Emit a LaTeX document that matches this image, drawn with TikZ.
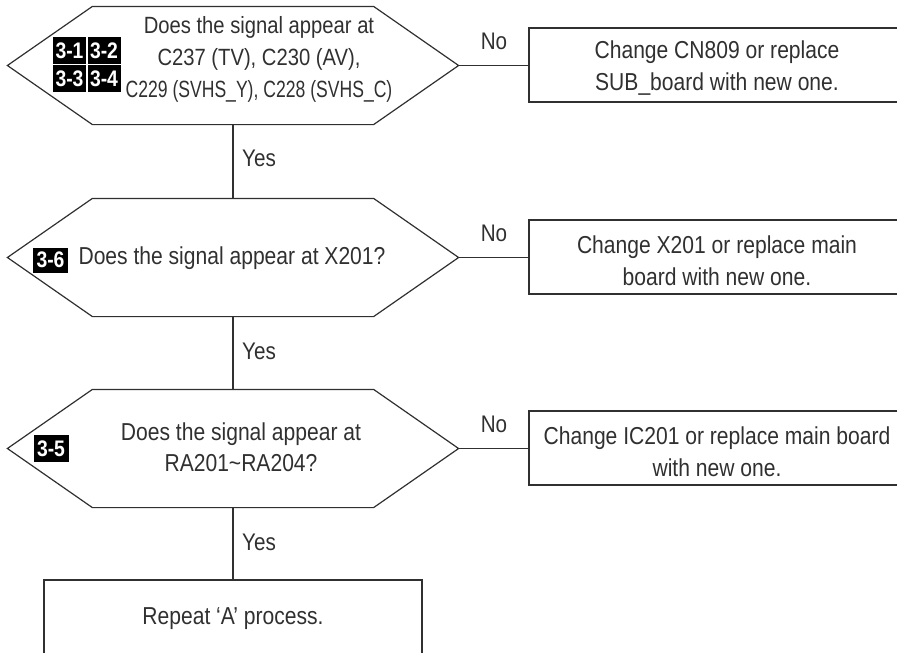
\documentclass[tikz,border=0pt]{standalone}
\usepackage{fontspec}
\usepackage{graphicx}
\setmainfont{Liberation Sans}[FakeStretch=0.86]
\usetikzlibrary{calc}
\definecolor{ink}{HTML}{303030}
\begin{document}
\begin{tikzpicture}[x=1pt,y=-1pt,line width=1.2pt,color=ink,
  txt/.style={font=\fontsize{24.5}{31}\selectfont, align=center, inner sep=0pt, text=ink},
  hexa/.style={minimum width=450pt, minimum height=117pt, inner sep=0pt},
  box/.style={draw=ink, minimum width=376pt, minimum height=74pt, inner sep=0pt},
  btxt/.style={align=center, inner sep=0pt, font=\fontsize{24.5}{32}\selectfont, text=ink},
  badge/.style={fill=black, text=white, font=\bfseries\fontsize{22.5}{22.5}\selectfont, minimum width=33pt, minimum height=27pt, inner sep=0pt},
  lab/.style={font=\fontsize{24}{24}\selectfont, text=ink, inner sep=0pt}
]
\clip (0,0) rectangle (897,653);
% decision hexagons
\node[hexa] (h1) at (233,65.5) {};
\node[hexa] (h2) at (233,257.5) {};
\node[hexa] (h3) at (233,448.5) {};
\foreach \n in {h1,h2,h3}
  \draw (\n.west) -- ([xshift=85pt]\n.north west) -- ([xshift=-85pt]\n.north east) -- (\n.east)
        -- ([xshift=-85pt]\n.south east) -- ([xshift=85pt]\n.south west) -- cycle;
% texts in hexagons
\node[txt, font=\fontsize{23.5}{32}\selectfont] (t1) at (259,59) {Does the signal appear at\\C237 (TV), C230 (AV),\\\scalebox{0.87}[1]{C229 (SVHS\_Y), C228 (SVHS\_C)}};
\node[badge] (b31) at (69.5,50.5) {3-1};
\node[badge] (b32) at (104,50.5) {3-2};
\node[badge] (b33) at (69.5,78.5) {3-3};
\node[badge] (b34) at (104,78.5) {3-4};
\node[badge, minimum width=35pt, minimum height=25pt] (b36) at (50.5,260) {3-6};
\node[txt] (t2) at (232,258) {Does the signal appear at X201?};
\node[badge, minimum width=35pt] (b35) at (51,448.5) {3-5};
\node[txt] (t3) at (241,447) {Does the signal appear at\\RA201\textasciitilde RA204?};
% action boxes
\node[box] (r1) at (717,65) {};
\node[btxt] (r1t) at (717,68.5) {Change CN809 or replace\\SUB\_board with new one.};
\node[box] (r2) at (717,257) {};
\node[btxt] (r2t) at (717,260.5) {Change X201 or replace main\\board with new one.};
\node[box] (r3) at (717,448) {};
\node[btxt] (r3t) at (717,451.5) {Change IC201 or replace main board\\with new one.};
\node[box, minimum width=378pt, minimum height=76pt] (fin) at (233,618) {};
\node[btxt] (fint) at (233,619) {Repeat `A' process.};
% connectors
\draw (h1.east) -- (h1.east -| r1.west);
\draw (h2.east) -- (h2.east -| r2.west);
\draw (h3.east) -- (h3.east -| r3.west);
\draw (h1.south) -- (h2.north);
\draw (h2.south) -- (h3.north);
\draw (h3.south) -- (fin.north);
% labels
\node[lab] (no1) at (494,41) {No};
\node[lab] (no2) at (494,233) {No};
\node[lab] (no3) at (494,424) {No};
\node[lab] (y1) at (259,158) {Yes};
\node[lab] (y2) at (259,351) {Yes};
\node[lab] (y3) at (259,542) {Yes};
\end{tikzpicture}
\end{document}
